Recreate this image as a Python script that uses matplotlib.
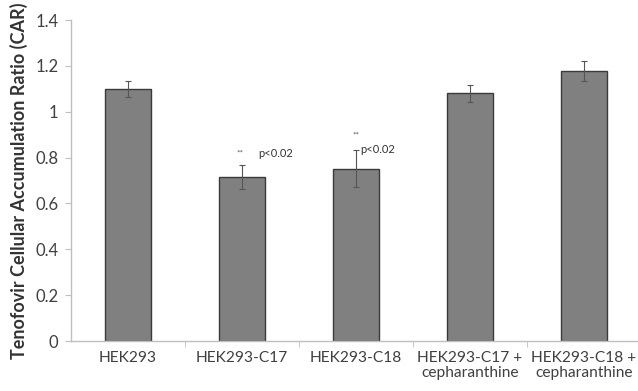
import numpy as np
import matplotlib.pyplot as plt

plt.rcParams['font.family'] = ['Lato', 'DejaVu Sans']

# CAR values per cell line
groups = ['HEK293', 'HEK293-C17', 'HEK293-C18',
          'HEK293-C17 +\ncepharanthine', 'HEK293-C18 +\ncepharanthine']
car = [1.10, 0.714, 0.751, 1.08, 1.177]
car_err = [0.035, 0.053, 0.08, 0.038, 0.045]
yticks = [0, 0.2, 0.4, 0.6, 0.8, 1, 1.2, 1.4]
ytick_labels = ['0', '0.2', '0.4', '0.6', '0.8', '1', '1.2', '1.4']

fig = plt.figure(figsize=(6.38, 3.91), dpi=100)
# axes run slightly past the right edge, like the cropped figure
ax = fig.add_axes([71 / 638, 50 / 391, 570 / 638, 321 / 391])

x = np.arange(len(groups))
ax.bar(x, car, width=0.41, color='#808080', edgecolor='#3a3a3a', linewidth=1.0,
       yerr=car_err, error_kw=dict(ecolor='#555555', elinewidth=0.8, capsize=2.5, capthick=0.8))

ax.set_xlim(-0.5, len(groups) - 0.5)
ax.set_ylim(0, 1.4)
ax.set_yticks(yticks)
ax.set_yticklabels(ytick_labels, fontsize=12, color='#404040')
ax.set_xticks(x)
ax.set_xticklabels(groups, fontsize=11.2, color='#404040', linespacing=1.1)
ax.set_xticks(np.arange(len(groups) - 1) + 0.5, minor=True)
ax.tick_params(axis='x', which='major', length=0, pad=7)
ax.tick_params(axis='x', which='minor', length=4, color='#bfbfbf')
ax.tick_params(axis='y', length=4, color='#bfbfbf', pad=5)

for side in ['top', 'right']:
    ax.spines[side].set_visible(False)
for side in ['left', 'bottom']:
    ax.spines[side].set_color('#bfbfbf')
    ax.spines[side].set_linewidth(1.0)

ax.set_ylabel('Tenofovir Cellular Accumulation Ratio (CAR)', fontsize=13,
              fontweight='bold', color='#333333', labelpad=5)

# significance marks
ax.text(x[1] - 0.02, car[1] + car_err[1] + 0.04, '**', fontsize=6, ha='center', color='#555555')
ax.text(x[1] + 0.14, car[1] + car_err[1] + 0.035, 'p<0.02', fontsize=8, ha='left', color='#333333')
ax.text(x[2], car[2] + car_err[2] + 0.055, '**', fontsize=6, ha='center', color='#555555')
ax.text(x[2] + 0.04, car[2] + car_err[2] - 0.01, 'p<0.02', fontsize=8, ha='left', color='#333333')

fig.savefig('out.png', dpi=100)
